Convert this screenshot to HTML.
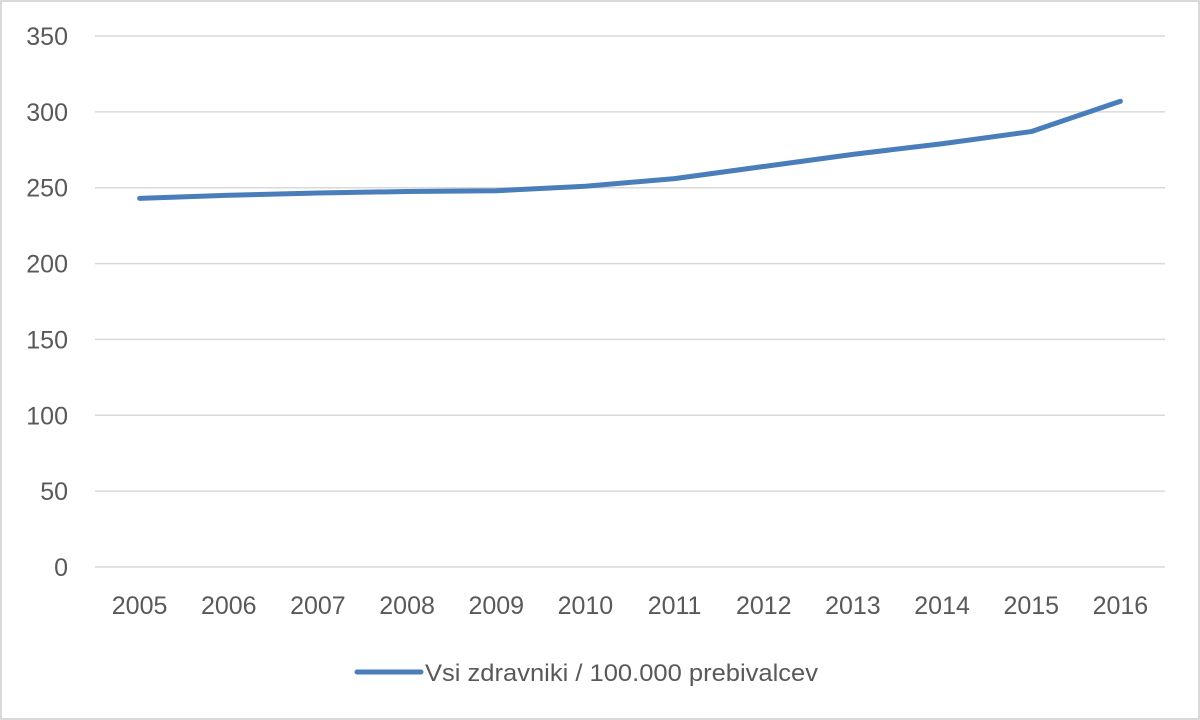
<!DOCTYPE html>
<html><head><meta charset="utf-8"><style>
html,body{margin:0;padding:0;background:#fff}
svg{display:block}
text{font-family:"Liberation Sans",sans-serif;fill:#595959}
</style></head><body>
<svg width="1200" height="720">
<rect x="1" y="1" width="1198" height="718" fill="#fff" stroke="#d9d9d9" stroke-width="2"/>
<g id="grid"></g><g id="yt"></g><g id="xt"></g><g id="series"></g>
<g>
<line x1="357" y1="672" x2="421" y2="672" stroke="#4a7ebb" stroke-width="5" stroke-linecap="round"/>
<text x="425" y="681" font-size="24" textLength="393" lengthAdjust="spacingAndGlyphs">Vsi zdravniki / 100.000 prebivalcev</text>
</g>
</svg>
<script>
const years=["2005","2006","2007","2008","2009","2010","2011","2012","2013","2014","2015","2016"];
const values=[243,245,246.5,247.5,248,251,256,264,272,279,287,307];
const yTicks=[0,50,100,150,200,250,300,350];
const NS="http://www.w3.org/2000/svg";
const x0=95,x1=1165,yTop=36,yBot=567,yMax=350;
const step=(x1-x0)/years.length;
const xs=i=>x0+step*(i+0.5);
const ys=v=>yBot-(v/yMax)*(yBot-yTop);
function mk(t,a,p){const e=document.createElementNS(NS,t);for(const k in a)e.setAttribute(k,a[k]);p.appendChild(e);return e;}
const g=document.getElementById('grid'),yt=document.getElementById('yt'),xt=document.getElementById('xt'),se=document.getElementById('series');
yTicks.forEach(v=>{
 const l=mk('line',{x1:x0,x2:x1,y1:ys(v),y2:ys(v),stroke:'#d9d9d9','stroke-width':1.5},g);
 
 
 const t=mk('text',{x:68,y:ys(v)+9,'text-anchor':'end','font-size':25},yt);
 t.textContent=v;
 
 
});
years.forEach((y,i)=>{
 const t=mk('text',{x:xs(i),y:614,'text-anchor':'middle','font-size':25},xt);
 t.textContent=y;
 
 
});
const p=mk('polyline',{points:values.map((v,i)=>xs(i)+','+ys(v)).join(' '),fill:'none',stroke:'#4a7ebb','stroke-width':5,'stroke-linecap':'round','stroke-linejoin':'round'},se);


</script>
</body></html>
